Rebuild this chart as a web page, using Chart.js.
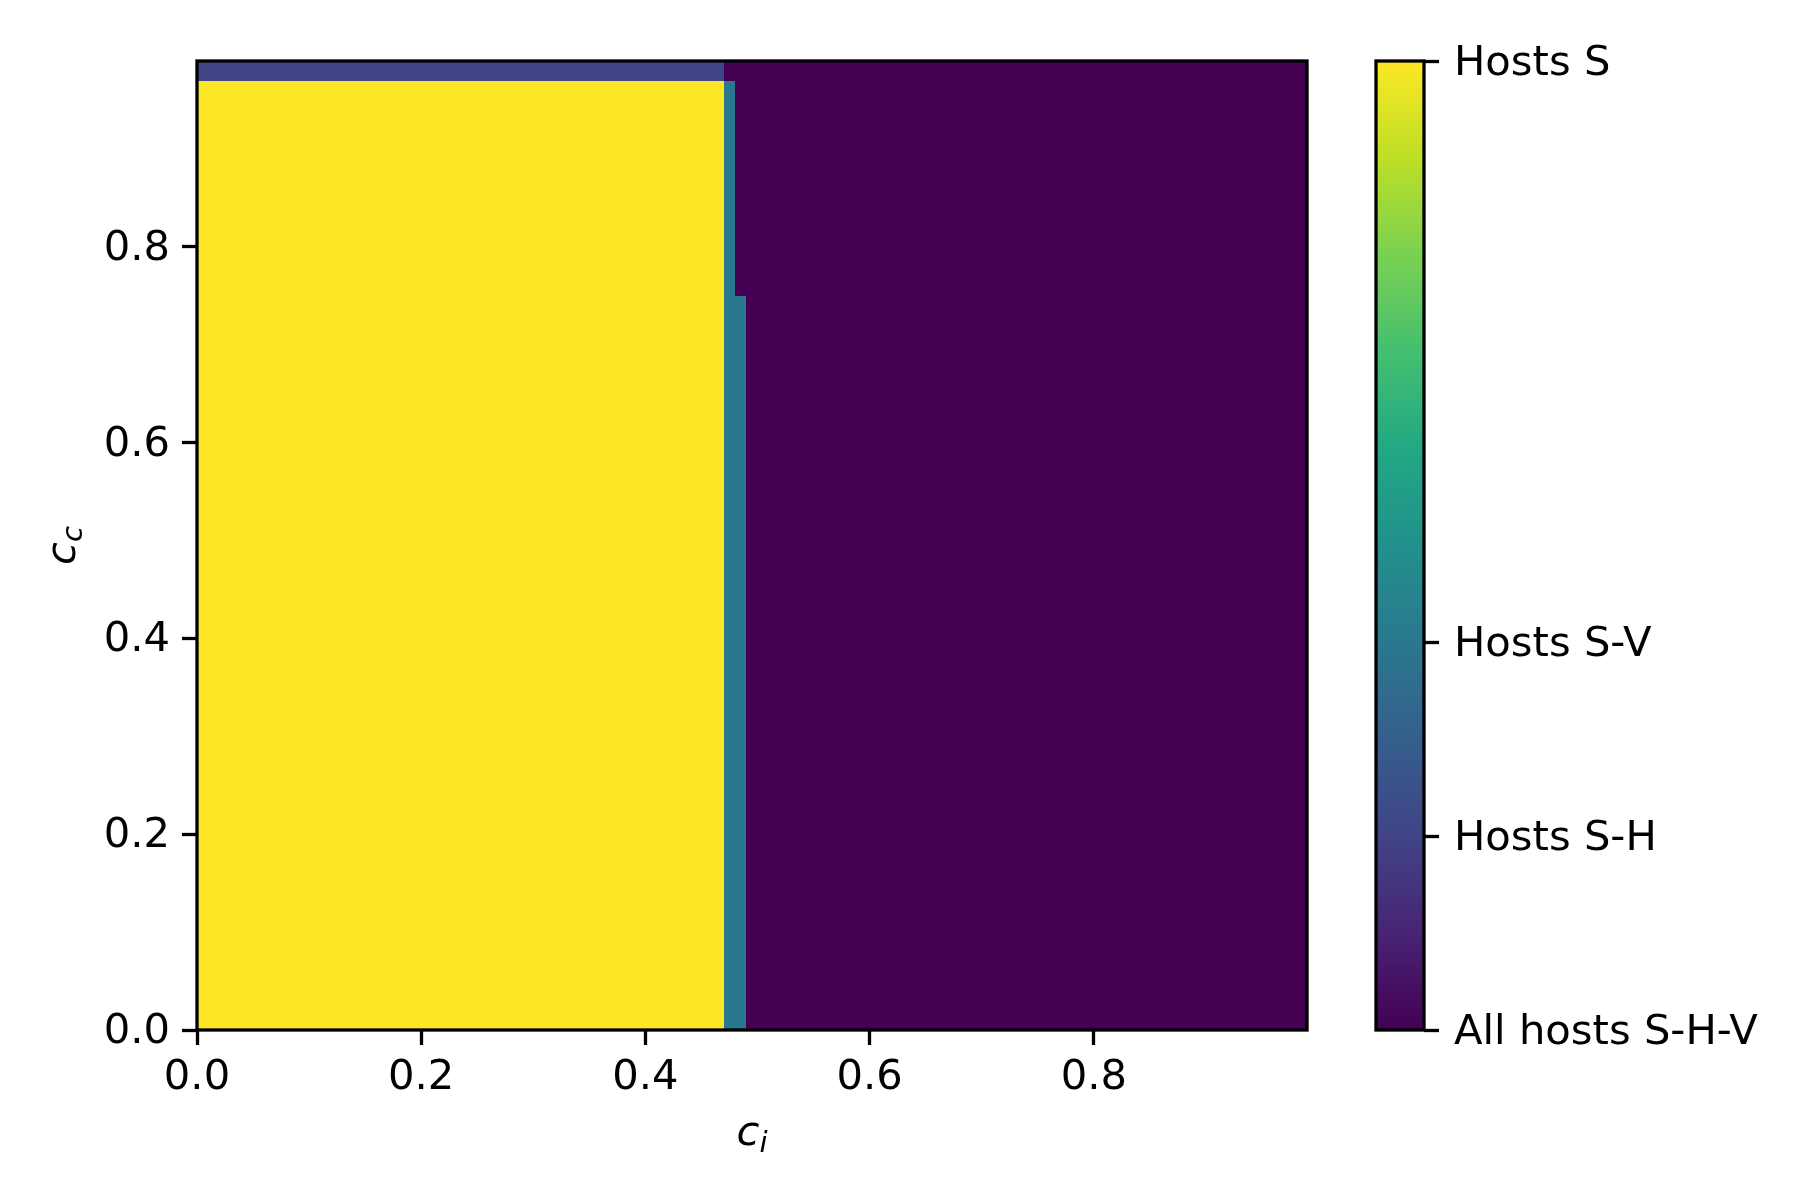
<!DOCTYPE html>
<html>
<head>
<meta charset="utf-8">
<script src="https://cdn.jsdelivr.net/npm/chart.js@4.4.0/dist/chart.umd.min.js"></script>
<style>
  body { margin: 0; background: #fff; }
  #wrap { position: relative; width: 1800px; height: 1200px; }
  #main { position: absolute; left: 0; top: 0; }
  #cbar { position: absolute; left: 1300px; top: 0; }
</style>
</head>
<body>
<div id="wrap">
  <canvas id="main" width="1800" height="1200"></canvas>
  <canvas id="cbar" width="500" height="1200"></canvas>
</div>
<script>
// regions of the (c_i, c_c) plane
const ciStart = [0, 0, 0, 0.47, 0.47];
const ciEnd = [0.99, 0.47, 0.47, 0.49, 0.48];
const ccStart = [0, 0, 0.97, 0, 0.75];
const ccEnd = [0.99, 0.97, 0.99, 0.75, 0.97];
const regionState = [0, 5, 1, 2, 2];

const xTicks = [0, 0.2, 0.4, 0.6, 0.8];
const yTicks = [0, 0.2, 0.4, 0.6, 0.8];
const stateTicks = [0, 1, 2, 5];
const stateLabels = ['All hosts S-H-V', 'Hosts S-H', 'Hosts S-V', 'Hosts S'];
const stateMin = 0;
const stateMax = 5;

const VIRIDIS = ['#440154', '#482475', '#414487', '#355f8d', '#2a788e', '#21918c',
  '#22a884', '#44bf70', '#7ad151', '#bddf26', '#fde725'];

const hexRgb = h => [1, 3, 5].map(i => parseInt(h.substr(i, 2), 16));
const viridis = t => {
  t = Math.min(1, Math.max(0, t));
  const p = t * (VIRIDIS.length - 1);
  const i = Math.min(Math.floor(p), VIRIDIS.length - 2);
  const f = p - i;
  const a = hexRgb(VIRIDIS[i]), b = hexRgb(VIRIDIS[i + 1]);
  const c = a.map((v, k) => Math.round(v + (b[k] - v) * f));
  return `rgb(${c[0]},${c[1]},${c[2]})`;
};
const stateColor = v => viridis((v - stateMin) / (stateMax - stateMin));

const FONT = 'DejaVu Sans';
const FS = 41.7;
const LW = 3.3;
Chart.defaults.font.family = FONT;
Chart.defaults.font.size = FS;
Chart.defaults.color = '#000';

// draw italic "c" with a subscript at (x, y) baseline, centred on x
function mathLabel(ctx, base, sub, x, y) {
  ctx.font = `italic ${FS}px "${FONT}"`;
  const wb = ctx.measureText(base).width;
  ctx.font = `italic ${FS * 0.7}px "${FONT}"`;
  const ws = ctx.measureText(sub).width;
  const x0 = x - (wb + ws) / 2;
  ctx.fillStyle = '#000';
  ctx.textBaseline = 'alphabetic';
  ctx.textAlign = 'left';
  ctx.font = `italic ${FS}px "${FONT}"`;
  ctx.fillText(base, x0, y);
  ctx.font = `italic ${FS * 0.7}px "${FONT}"`;
  ctx.fillText(sub, x0 + wb, y + FS * 0.16);
}

const heatmapPlugin = {
  id: 'heatmap',
  beforeDatasetsDraw(chart) {
    const { ctx, scales: { x, y }, chartArea } = chart;
    ctx.save();
    ctx.beginPath();
    ctx.rect(chartArea.left, chartArea.top, chartArea.width, chartArea.height);
    ctx.clip();
    regionState.forEach((s, i) => {
      const x0 = Math.round(x.getPixelForValue(ciStart[i]));
      const x1 = Math.round(x.getPixelForValue(ciEnd[i]));
      const y0 = Math.round(y.getPixelForValue(ccEnd[i]));
      const y1 = Math.round(y.getPixelForValue(ccStart[i]));
      ctx.fillStyle = stateColor(s);
      ctx.fillRect(x0, y0, x1 - x0, y1 - y0);
    });
    ctx.restore();
  },
  afterDraw(chart) {
    const { ctx, chartArea: a } = chart;
    ctx.save();
    ctx.strokeStyle = '#000';
    ctx.lineWidth = LW;
    ctx.strokeRect(a.left, a.top, a.width, a.height);
    mathLabel(ctx, 'c', 'i', (a.left + a.right) / 2, 1145);
    ctx.translate(75, (a.top + a.bottom) / 2);
    ctx.rotate(-Math.PI / 2);
    mathLabel(ctx, 'c', 'c', 0, 0);
    ctx.restore();
  }
};

const gridStyle = { drawOnChartArea: false, drawTicks: true, tickLength: 15, tickWidth: LW, tickColor: '#000' };
const tickFmt = v => v.toFixed(1);

new Chart(document.getElementById('main'), {
  type: 'scatter',
  data: { datasets: [{ data: [], pointRadius: 0 }] },
  options: {
    responsive: false,
    devicePixelRatio: 1,
    animation: false,
    layout: { padding: { left: 0, top: 61, right: 493, bottom: 0 } },
    plugins: { legend: { display: false }, tooltip: { enabled: false } },
    scales: {
      x: {
        type: 'linear', min: 0, max: 0.99,
        grid: gridStyle,
        border: { display: false },
        ticks: { color: '#000', font: { size: FS }, padding: 8, callback: tickFmt },
        afterBuildTicks: s => { s.ticks = xTicks.map(v => ({ value: v })); },
        afterFit: s => { s.height = 170; }
      },
      y: {
        type: 'linear', min: 0, max: 0.99,
        grid: gridStyle,
        border: { display: false },
        ticks: { color: '#000', font: { size: FS }, padding: 12, labelOffset: 2, callback: tickFmt },
        afterBuildTicks: s => { s.ticks = yTicks.map(v => ({ value: v })); },
        afterFit: s => { s.width = 197; }
      }
    }
  },
  plugins: [heatmapPlugin]
});

const colorbarPlugin = {
  id: 'colorbar',
  beforeDatasetsDraw(chart) {
    const { ctx, chartArea: a } = chart;
    const g = ctx.createLinearGradient(0, a.bottom, 0, a.top);
    VIRIDIS.forEach((c, i) => g.addColorStop(i / (VIRIDIS.length - 1), c));
    ctx.save();
    ctx.fillStyle = g;
    ctx.fillRect(a.left, a.top, a.width, a.height);
    ctx.restore();
  },
  afterDraw(chart) {
    const { ctx, chartArea: a } = chart;
    ctx.save();
    ctx.strokeStyle = '#000';
    ctx.lineWidth = LW;
    ctx.strokeRect(a.left, a.top, a.width, a.height);
    ctx.restore();
  }
};

new Chart(document.getElementById('cbar'), {
  type: 'bar',
  data: { labels: [''], datasets: [] },
  options: {
    responsive: false,
    devicePixelRatio: 1,
    animation: false,
    layout: { padding: { left: 76, top: 61, right: 0, bottom: 170 } },
    plugins: { legend: { display: false }, tooltip: { enabled: false } },
    scales: {
      x: { display: false },
      y: {
        type: 'linear',
        position: 'right',
        min: stateMin,
        max: stateMax,
        grid: gridStyle,
        border: { display: false },
        ticks: { color: '#000', font: { size: FS }, padding: 15, labelOffset: 3, callback: (v, i) => stateLabels[i] },
        afterBuildTicks: s => { s.ticks = stateTicks.map(v => ({ value: v })); },
        afterFit: s => { s.width = 376; }
      }
    }
  },
  plugins: [colorbarPlugin]
});
</script>
</body>
</html>
